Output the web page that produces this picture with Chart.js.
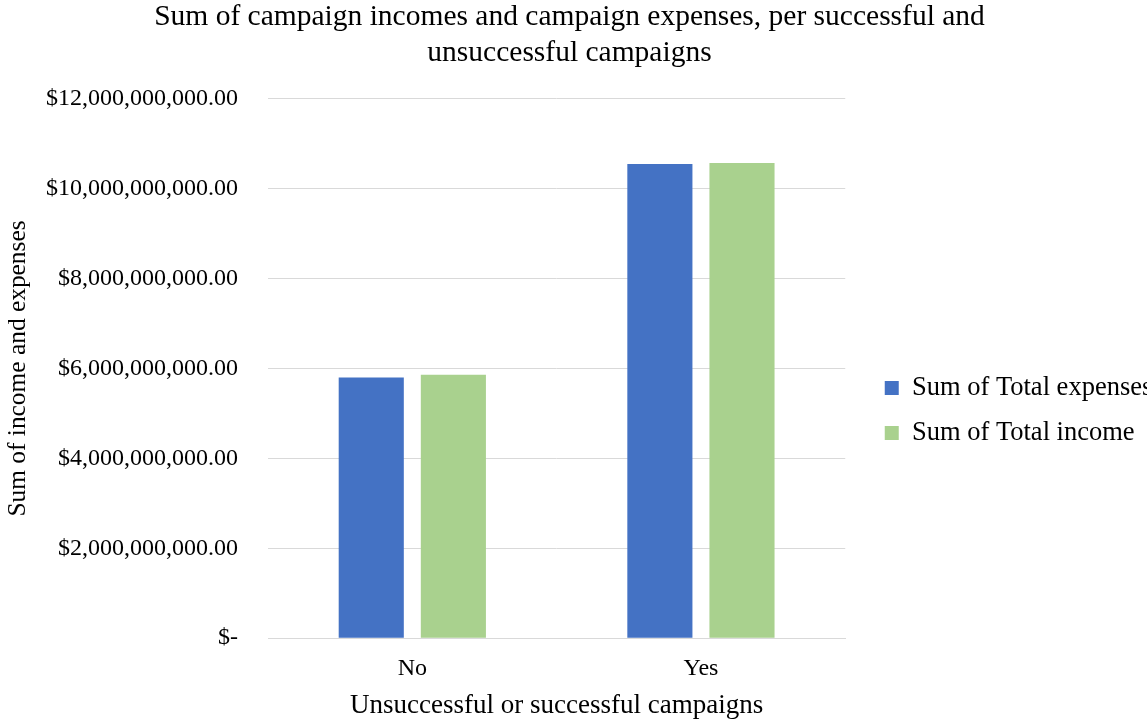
<!DOCTYPE html>
<html>
<head>
<meta charset="utf-8">
<script src="https://cdn.jsdelivr.net/npm/chart.js@4/dist/chart.umd.min.js"></script>
<style>
  html, body { margin: 0; padding: 0; background: #fff; }
  #wrap { width: 1148px; height: 719px; position: relative; }
</style>
</head>
<body>
<div id="wrap"><canvas id="chart"></canvas></div>
<script>
const categories = ["No", "Yes"];
const expenses = [5.80e9, 10.55e9];
const income = [5.86e9, 10.57e9];
const seriesNames = ["Sum of Total expenses", "Sum of Total income"];
const yTicks = [0, 2e9, 4e9, 6e9, 8e9, 10e9, 12e9];

const FONT = "'Liberation Serif', 'Times New Roman', serif";
const TEXT = "#000000";
const GRID = "#D9D9D9";

// accounting style: $-  for zero, $1,234.00 otherwise
function money(v) {
    if (v === 0) return "$-";
    return "$" + v.toLocaleString("en-US", { minimumFractionDigits: 2, maximumFractionDigits: 2 });
}

// nudge legend and title blocks a little, like the excel layout
const boxNudge = {
    id: "boxNudge",
    afterLayout(chart, args, opts) {
        const move = (box, dx, dy) => {
            if (!box) return;
            box.left += dx;
            box.right += dx;
            box.top += dy;
            box.bottom += dy;
        };
        move(chart.legend, opts.legendDx, opts.legendDy);
        move(chart.titleBlock, opts.titleDx, 0);
    },
};

new Chart(document.getElementById("chart"), {
    type: "bar",
    data: {
        labels: categories,
        datasets: [
            {
                label: seriesNames[0],
                data: expenses,
                backgroundColor: "#4472C4",
                barPercentage: 0.793,
                categoryPercentage: 0.569,
            },
            {
                label: seriesNames[1],
                data: income,
                backgroundColor: "#A9D18E",
                barPercentage: 0.793,
                categoryPercentage: 0.569,
            },
        ],
    },
    plugins: [boxNudge],
    options: {
        responsive: true,
        maintainAspectRatio: false,
        animation: false,
        layout: { padding: { top: 0, right: 22, bottom: 0, left: 3 } },
        plugins: {
            boxNudge: { legendDx: 21, legendDy: 51, titleDx: 5 },
            title: {
                display: true,
                text: ["Sum of campaign incomes and campaign expenses, per successful and", "unsuccessful campaigns"],
                color: TEXT,
                font: { family: FONT, size: 29.5, weight: "normal", lineHeight: 1.2 },
                padding: { top: 0, bottom: 28 },
            },
            legend: {
                display: true,
                position: "right",
                align: "center",
                labels: {
                    color: TEXT,
                    font: { family: FONT, size: 26.5 },
                    boxWidth: 14,
                    boxHeight: 14,
                    padding: 18.5,
                },
            },
            tooltip: { enabled: false },
        },
        scales: {
            x: {
                grid: { display: false, drawTicks: false },
                border: { color: GRID, width: 1 },
                ticks: { color: TEXT, font: { family: FONT, size: 24 }, padding: 16 },
                title: {
                    display: true,
                    text: "Unsuccessful or successful campaigns",
                    color: TEXT,
                    font: { family: FONT, size: 27, lineHeight: 1 },
                    padding: { top: -7, bottom: 0 },
                },
            },
            y: {
                min: 0,
                max: 12e9,
                afterBuildTicks: (axis) => { axis.ticks = yTicks.map((v) => ({ value: v })); },
                afterFit: (axis) => { axis.width = 265; },
                grid: { color: GRID, drawTicks: false, lineWidth: 1 },
                border: { display: false },
                ticks: {
                    color: TEXT,
                    font: { family: FONT, size: 24 },
                    padding: 30,
                    callback: (v) => money(v),
                },
                title: {
                    display: true,
                    text: "Sum of income and expenses",
                    color: TEXT,
                    font: { family: FONT, size: 25.4 },
                    padding: { top: 0, bottom: 0 },
                },
            },
        },
    },
});
</script>
</body>
</html>
